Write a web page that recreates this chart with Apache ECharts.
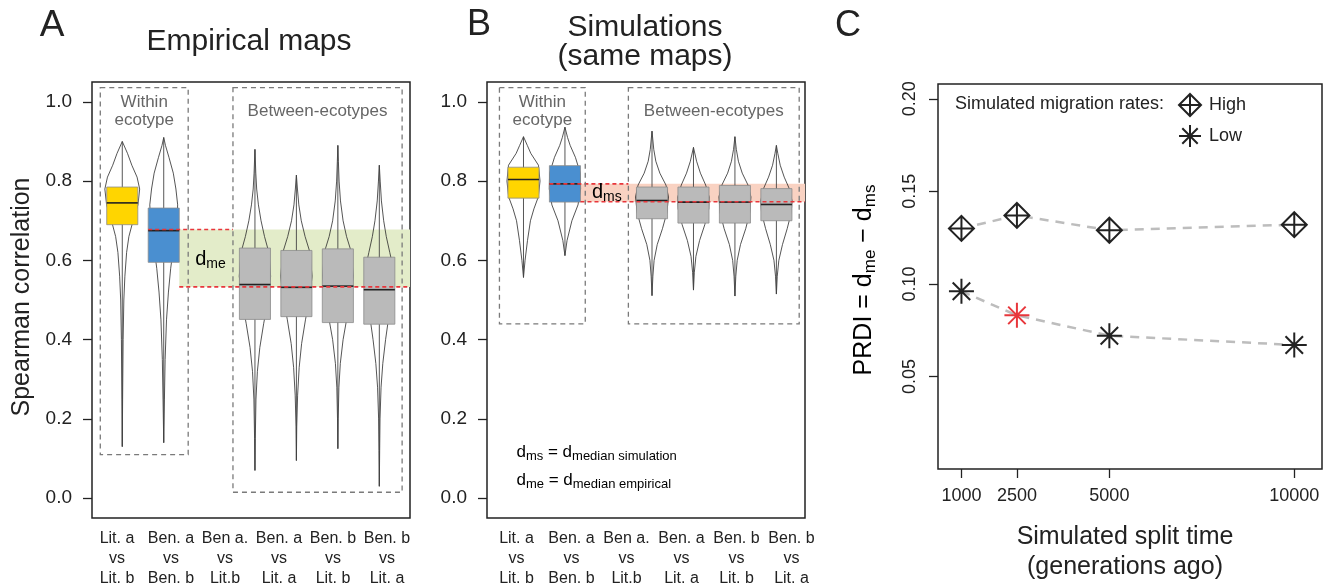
<!DOCTYPE html>
<html>
<head>
<meta charset="utf-8">
<script src="https://cdn.jsdelivr.net/npm/echarts@6/dist/echarts.min.js"></script>
<style>
  html, body { margin: 0; padding: 0; background: #fff; }
  #main { width: 1331px; height: 587px; }
</style>
</head>
<body>
<div id="main"></div>
<script>
// ---- data ----
const pairLabels = ['Lit. a\nvs\nLit. b', 'Ben. a\nvs\nBen. b', 'Ben a.\nvs\nLit.b',
                    'Ben. a\nvs\nLit. a', 'Ben. b\nvs\nLit. b', 'Ben. b\nvs\nLit. a'];
const corrTicks = [0, 0.2, 0.4, 0.6, 0.8, 1.0];

// panel A, empirical maps
const posA = [1, 2, 4.2, 5.2, 6.2, 7.2];
const empQ1 = [0.690, 0.595, 0.451, 0.458, 0.443, 0.439];
const empMed = [0.745, 0.675, 0.539, 0.532, 0.535, 0.526];
const empQ3 = [0.785, 0.732, 0.631, 0.625, 0.629, 0.608];
const empWithin = 0.678;
const empBetween = 0.533;
// violin outlines: [correlation, relative density]
const empViolins = [
  [[0.13,0],[0.25,0.02],[0.40,0.05],[0.50,0.09],[0.56,0.15],[0.62,0.25],[0.66,0.38],[0.70,0.62],[0.74,0.9],[0.78,1.0],[0.81,0.85],[0.84,0.55],[0.87,0.3],[0.90,0]],
  [[0.14,0],[0.25,0.04],[0.35,0.08],[0.45,0.16],[0.52,0.27],[0.58,0.4],[0.64,0.58],[0.70,0.75],[0.74,0.8],[0.78,0.7],[0.82,0.55],[0.86,0.3],[0.89,0.1],[0.91,0]],
  [[0.07,0],[0.15,0.02],[0.25,0.06],[0.32,0.14],[0.38,0.28],[0.44,0.5],[0.50,0.75],[0.56,0.9],[0.62,0.8],[0.66,0.55],[0.70,0.35],[0.74,0.2],[0.78,0.1],[0.82,0.05],[0.88,0]],
  [[0.095,0],[0.18,0.02],[0.26,0.07],[0.33,0.16],[0.39,0.3],[0.45,0.52],[0.51,0.78],[0.56,0.9],[0.62,0.78],[0.66,0.5],[0.70,0.28],[0.74,0.14],[0.78,0.06],[0.815,0]],
  [[0.125,0],[0.20,0.02],[0.28,0.06],[0.34,0.14],[0.40,0.3],[0.45,0.5],[0.51,0.75],[0.56,0.88],[0.62,0.78],[0.66,0.5],[0.70,0.3],[0.75,0.15],[0.80,0.07],[0.85,0.03],[0.89,0]],
  [[0.03,0],[0.12,0.02],[0.20,0.04],[0.28,0.1],[0.34,0.2],[0.40,0.36],[0.46,0.55],[0.52,0.75],[0.58,0.8],[0.62,0.6],[0.66,0.4],[0.70,0.25],[0.75,0.12],[0.80,0.05],[0.84,0]]
];

// panel B, simulations on the same maps
const posB = [1, 2, 4.1, 5.1, 6.1, 7.1];
const simQ1 = [0.757, 0.747, 0.705, 0.694, 0.694, 0.700];
const simMed = [0.804, 0.793, 0.751, 0.747, 0.747, 0.741];
const simQ3 = [0.835, 0.839, 0.785, 0.785, 0.789, 0.781];
const simWithin = 0.793;
const simBetween = 0.748;
const simViolins = [
  [[0.557,0],[0.60,0.09],[0.65,0.23],[0.70,0.4],[0.73,0.6],[0.76,0.85],[0.80,0.95],[0.84,0.86],[0.87,0.42],[0.89,0.22],[0.912,0]],
  [[0.612,0],[0.65,0.12],[0.70,0.4],[0.74,0.75],[0.78,0.9],[0.82,0.88],[0.86,0.6],[0.89,0.3],[0.91,0.15],[0.936,0]],
  [[0.511,0],[0.56,0.05],[0.60,0.12],[0.64,0.3],[0.68,0.6],[0.72,0.85],[0.76,0.95],[0.79,0.8],[0.82,0.45],[0.85,0.22],[0.88,0.1],[0.926,0]],
  [[0.525,0],[0.57,0.05],[0.61,0.14],[0.65,0.35],[0.69,0.65],[0.73,0.88],[0.76,0.9],[0.79,0.7],[0.82,0.4],[0.85,0.18],[0.885,0]],
  [[0.51,0],[0.56,0.05],[0.60,0.13],[0.64,0.32],[0.68,0.62],[0.72,0.85],[0.76,0.92],[0.79,0.75],[0.82,0.42],[0.85,0.2],[0.88,0.08],[0.912,0]],
  [[0.515,0],[0.56,0.05],[0.60,0.14],[0.64,0.35],[0.68,0.62],[0.72,0.85],[0.75,0.9],[0.78,0.75],[0.81,0.45],[0.84,0.22],[0.87,0.08],[0.89,0]]
];

// dashed group frames [x0, x1, y0, y1] in plot units
const groupNames = ['Within\necotype', 'Between-ecotypes'];
const framesA = [[0.47, 2.59, 0.110, 1.036], [3.67, 7.75, 0.015, 1.036]];
const framesB = [[0.42, 2.49, 0.440, 1.036], [3.53, 7.65, 0.440, 1.036]];

// panel C
const splitTimes = [1000, 2500, 5000, 10000];
const prdiHigh = [0.130, 0.137, 0.129, 0.132];
const prdiLow = [0.096, 0.083, 0.072, 0.067];
const prdiTicks = [0.05, 0.10, 0.15, 0.20];
const bestTime = 2500;

// ---- styling ----
const FONT = '"Liberation Sans", Arial, Helvetica, sans-serif';
const INK = '#222';
const boxColors = ['#ffd500', '#4a8fd0', '#bababa', '#bababa', '#bababa', '#bababa'];
const BOX_HALF = 0.375;
const VIOLIN_HALF = 0.42;
const RED = '#e8363b';
const diamondPath = 'path://M10,0L20,10L10,20L0,10ZM10,0L10,20M0,10L20,10';
const starPath = 'path://M0,10L20,10M10,0L10,20M3,3L17,17M3,17L17,3';

let myChart = echarts.init(document.getElementById('main'));

function violinSeries(ax, pos, q1, med, q3, violins) {
  return {
    type: 'custom', xAxisIndex: ax, yAxisIndex: ax, z: 3,
    data: pos.map((p, i) => [p, med[i], i]),
    renderItem: function (params, api) {
      const i = api.value(2), x = pos[i];
      const prof = violins[i];
      const left = prof.map(d => api.coord([x - d[1] * VIOLIN_HALF, d[0]]));
      const right = prof.slice().reverse().map(d => api.coord([x + d[1] * VIOLIN_HALF, d[0]]));
      const top = api.coord([x - BOX_HALF, q3[i]]);
      const bot = api.coord([x + BOX_HALF, q1[i]]);
      const m0 = api.coord([x - BOX_HALF, med[i]]);
      const m1 = api.coord([x + BOX_HALF, med[i]]);
      const c0 = api.coord([x, prof[0][0]]);
      const c1 = api.coord([x, prof[prof.length - 1][0]]);
      return {
        type: 'group',
        children: [
          { type: 'polygon', shape: { points: left.concat(right) },
            style: { fill: 'none', stroke: '#2a2a2a', lineWidth: 0.8 } },
          { type: 'line', shape: { x1: c0[0], y1: c0[1], x2: c1[0], y2: c1[1] },
            style: { stroke: '#444', lineWidth: 0.9 } },
          { type: 'rect', shape: { x: top[0], y: top[1], width: bot[0] - top[0], height: bot[1] - top[1] },
            style: { fill: boxColors[i], stroke: '#8c8c8c', lineWidth: 0.8 } },
          { type: 'line', shape: { x1: m0[0], y1: m0[1], x2: m1[0], y2: m1[1] },
            style: { stroke: INK, lineWidth: 1.6 } }
        ]
      };
    }
  };
}

function bandSeries(ax, pos, xMax, yTop, yBot, fill) {
  return {
    type: 'custom', xAxisIndex: ax, yAxisIndex: ax, z: 1,
    data: [[pos[1] + BOX_HALF, yTop, xMax, yBot]],
    renderItem: function (params, api) {
      const a = api.coord([api.value(0), api.value(1)]);
      const b = api.coord([api.value(2), api.value(3)]);
      return { type: 'rect', shape: { x: a[0], y: a[1], width: b[0] - a[0], height: b[1] - a[1] },
               style: { fill: fill } };
    }
  };
}

function medianLines(ax, pos, xMax, frames, yTop, yBot, label, labelAt) {
  return {
    type: 'custom', xAxisIndex: ax, yAxisIndex: ax, z: 4,
    data: [[0]],
    renderItem: function (params, api) {
      const t0 = api.coord([pos[1] - BOX_HALF, yTop]);
      const t1 = api.coord([frames[1][0], yTop]);
      const b0 = api.coord([pos[1] + BOX_HALF, yBot]);
      const b1 = api.coord([xMax, yBot]);
      const lp = api.coord(labelAt);
      const dash = { stroke: RED, lineWidth: 1.6, lineDash: [4, 3] };
      return {
        type: 'group',
        children: [
          { type: 'line', shape: { x1: t0[0], y1: t0[1], x2: t1[0], y2: t1[1] }, style: dash },
          { type: 'line', shape: { x1: b0[0], y1: b0[1], x2: b1[0], y2: b1[1] }, style: dash },
          { type: 'text', x: lp[0], y: lp[1],
            style: { text: '{d|d}{s|' + label + '}', textAlign: 'left', textVerticalAlign: 'middle',
                     rich: { d: { fontSize: 20, fontFamily: FONT, color: INK, lineHeight: 24 },
                             s: { fontSize: 14, fontFamily: FONT, color: INK, lineHeight: 14, verticalAlign: 'bottom' } } } }
        ]
      };
    }
  };
}

function frameSeries(ax, frames) {
  return {
    type: 'custom', xAxisIndex: ax, yAxisIndex: ax, z: 5,
    data: frames.map((f, i) => [f[0], f[1], f[2], f[3], i]),
    renderItem: function (params, api) {
      const a = api.coord([api.value(0), api.value(3)]);
      const b = api.coord([api.value(1), api.value(2)]);
      return {
        type: 'group',
        children: [
          { type: 'rect', shape: { x: a[0], y: a[1], width: b[0] - a[0], height: b[1] - a[1] },
            style: { fill: 'none', stroke: '#7a7a7a', lineWidth: 1.3, lineDash: [5, 4] } },
          { type: 'text', x: (a[0] + b[0]) / 2, y: a[1] + 24,
            style: { text: groupNames[api.value(4)], textAlign: 'center', textVerticalAlign: 'middle',
                     fill: '#666', font: '17px ' + FONT, lineHeight: 18 } }
        ]
      };
    }
  };
}

function noteSeries(ax, notes) {
  return {
    type: 'custom', xAxisIndex: ax, yAxisIndex: ax, z: 5,
    data: notes.map((n, i) => [n.at[0], n.at[1], i]),
    renderItem: function (params, api) {
      const n = notes[api.value(2)];
      const p = api.coord([api.value(0), api.value(1)]);
      return { type: 'text', x: p[0], y: p[1],
        style: { text: n.text, textAlign: 'left', textVerticalAlign: 'middle',
                 rich: { m: { fontSize: 17, fontFamily: FONT, color: INK, lineHeight: 22 },
                         s: { fontSize: 13, fontFamily: FONT, color: INK, lineHeight: 13, verticalAlign: 'bottom' } } } };
    }
  };
}

const tickStyle = { show: true, inside: false, length: 9, lineStyle: { color: INK, width: 1.3 } };

function corrYAxis(grid) {
  return {
    type: 'value', gridIndex: grid, min: -0.05, max: 1.05,
    axisLine: { show: false }, splitLine: { show: false },
    axisTick: Object.assign({ customValues: corrTicks }, tickStyle),
    axisLabel: { customValues: corrTicks, formatter: v => v.toFixed(1), fontSize: 19,
                 fontFamily: FONT, color: INK, margin: 20 }
  };
}

function labelAxis(grid) {
  return {
    type: 'category', gridIndex: grid, data: pairLabels,
    axisLine: { show: false }, axisTick: { show: false },
    axisLabel: { fontSize: 16, fontFamily: FONT, color: INK, lineHeight: 20, margin: 10, interval: 0 }
  };
}

const hiddenY = g => ({ type: 'value', gridIndex: g, show: false });
const plotGrid = (l, t, w, h) => ({ left: l, top: t, width: w, height: h, show: true,
                                    borderColor: INK, borderWidth: 1.5, backgroundColor: 'transparent' });

option = {
  animation: false,
  backgroundColor: '#fff',
  textStyle: { fontFamily: FONT },
  grid: [
    plotGrid(92, 82, 318, 436),
    plotGrid(487, 82, 318, 436),
    plotGrid(938, 84, 384, 385),
    { left: 90, top: 518, width: 324, height: 1 },
    { left: 489, top: 518, width: 330, height: 1 }
  ],
  xAxis: [
    { type: 'value', gridIndex: 0, min: 0.27, max: 7.94, show: false },
    { type: 'value', gridIndex: 1, min: 0.12, max: 7.79, show: false },
    { type: 'value', gridIndex: 2, min: 366, max: 10750,
      axisLine: { show: false }, splitLine: { show: false },
      axisTick: Object.assign({ customValues: splitTimes }, tickStyle),
      axisLabel: { customValues: splitTimes, formatter: v => String(v), fontSize: 18,
                   fontFamily: FONT, color: INK, margin: 18 } },
    labelAxis(3),
    labelAxis(4)
  ],
  yAxis: [
    corrYAxis(0),
    corrYAxis(1),
    { type: 'value', gridIndex: 2, min: 0, max: 0.208,
      axisLine: { show: false }, splitLine: { show: false },
      axisTick: Object.assign({ customValues: prdiTicks }, tickStyle),
      axisLabel: { customValues: prdiTicks, formatter: v => v.toFixed(2), rotate: 90, fontSize: 18,
                   fontFamily: FONT, color: INK, margin: 19 } },
    hiddenY(3),
    hiddenY(4)
  ],
  legend: {
    left: 1178, top: 93, padding: 0, orient: 'vertical', itemWidth: 22, itemHeight: 22, itemGap: 7,
    selectedMode: false,
    textStyle: { fontSize: 18, fontFamily: FONT, color: INK, padding: [0, 0, 0, 3] },
    itemStyle: { color: '#fff', borderColor: INK, borderWidth: 2 },
    data: [{ name: 'High', icon: diamondPath }, { name: 'Low', icon: starPath }]
  },
  graphic: [
    { type: 'text', x: 52, y: 26, style: { text: 'A', font: '37px ' + FONT, fill: INK, textAlign: 'center', textVerticalAlign: 'middle' } },
    { type: 'text', x: 249, y: 42, style: { text: 'Empirical maps', font: '30px ' + FONT, fill: INK, textAlign: 'center', textVerticalAlign: 'middle' } },
    { type: 'text', x: 479, y: 25, style: { text: 'B', font: '36px ' + FONT, fill: INK, textAlign: 'center', textVerticalAlign: 'middle' } },
    { type: 'text', x: 645, y: 42, style: { text: 'Simulations\n(same maps)', font: '30px ' + FONT, lineHeight: 29, fill: INK, textAlign: 'center', textVerticalAlign: 'middle' } },
    { type: 'text', x: 848, y: 26, style: { text: 'C', font: '36px ' + FONT, fill: INK, textAlign: 'center', textVerticalAlign: 'middle' } },
    { type: 'text', x: 22, y: 297, rotation: Math.PI / 2,
      style: { text: 'Spearman correlation', font: '25px ' + FONT, fill: INK, textAlign: 'center', textVerticalAlign: 'middle' } },
    { type: 'text', x: 864, y: 280, rotation: Math.PI / 2,
      style: { text: '{m|PRDI = d}{s|me}{m| \u2212 d}{s|ms}', textAlign: 'center', textVerticalAlign: 'middle',
               rich: { m: { fontSize: 25, fontFamily: FONT, color: INK, lineHeight: 30 },
                       s: { fontSize: 17, fontFamily: FONT, color: INK, lineHeight: 17, verticalAlign: 'bottom' } } } },
    { type: 'text', x: 1125, y: 552, style: { text: 'Simulated split time\n(generations ago)', font: '25px ' + FONT, lineHeight: 30, fill: INK, textAlign: 'center', textVerticalAlign: 'middle' } },
    { type: 'text', x: 955, y: 104, style: { text: 'Simulated migration rates:', font: '18px ' + FONT, fill: INK, textAlign: 'left', textVerticalAlign: 'middle' } }
  ],
  series: [
    bandSeries(0, posA, 7.94, empWithin, empBetween, '#e3ecc9'),
    violinSeries(0, posA, empQ1, empMed, empQ3, empViolins),
    medianLines(0, posA, 7.94, framesA, empWithin, empBetween, 'me', [2.76, 0.603]),
    frameSeries(0, framesA),
    bandSeries(1, posB, 7.79, simWithin, simBetween, '#f9d2c2'),
    violinSeries(1, posB, simQ1, simMed, simQ3, simViolins),
    medianLines(1, posB, 7.79, framesB, simWithin, simBetween, 'ms', [2.65, 0.772]),
    frameSeries(1, framesB),
    noteSeries(1, [
      { at: [0.83, 0.116], text: '{m|d}{s|ms}{m| = d}{s|median simulation}' },
      { at: [0.83, 0.045], text: '{m|d}{s|me}{m| = d}{s|median empirical}' }
    ]),
    {
      name: 'High', type: 'line', xAxisIndex: 2, yAxisIndex: 2, z: 3,
      data: splitTimes.map((t, i) => [t, prdiHigh[i]]),
      symbol: diamondPath, symbolSize: 25,
      lineStyle: { color: '#bdbdbd', width: 2.5, type: [9, 7] },
      itemStyle: { color: '#fff', borderColor: INK, borderWidth: 2 }
    },
    {
      name: 'Low', type: 'line', xAxisIndex: 2, yAxisIndex: 2, z: 3,
      data: splitTimes.map((t, i) => t === bestTime
        ? { value: [t, prdiLow[i]], itemStyle: { borderColor: RED } }
        : [t, prdiLow[i]]),
      symbol: starPath, symbolSize: 25,
      lineStyle: { color: '#bdbdbd', width: 2.5, type: [9, 7] },
      itemStyle: { color: '#fff', borderColor: INK, borderWidth: 2 }
    }
  ]
};

myChart.setOption(option);
</script>
</body>
</html>
